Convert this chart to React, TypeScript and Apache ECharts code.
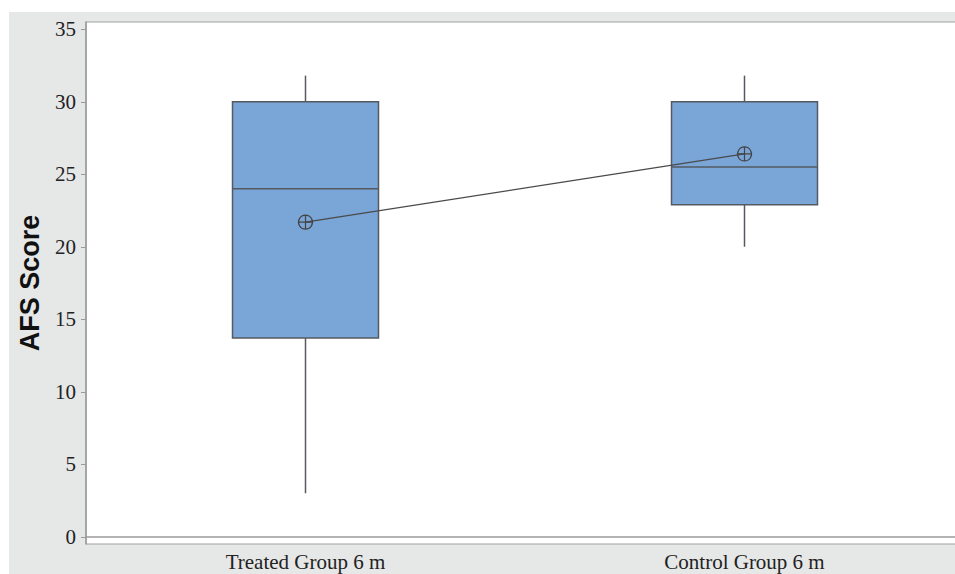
import React, { useEffect, useRef } from "react";
import * as echarts from "echarts";

// Box statistics per group: [min, Q1, median, Q3, max]
const categories = ["Treated Group 6 m", "Control Group 6 m"];
const boxStats = [
  [3.0, 13.7, 24.0, 30.0, 31.8],
  [20.0, 22.9, 25.5, 30.0, 31.8],
];
const groupMeans = [21.7, 26.4];
const yTicks = [0, 5, 10, 15, 20, 25, 30, 35];

// Circle with a plus inside, used as the mean marker
const meanSymbol =
  "path://M10,0 A10,10 0 1,1 9.99,0 Z M10,0 L10,20 M0,10 L20,10";

const BOX_WIDTH = 146;
const EDGE = "#555a60";

export default function App() {
  const ref = useRef<HTMLDivElement>(null);

  useEffect(() => {
    if (!ref.current) return;
    const chart = echarts.init(ref.current, null, { renderer: "svg" });
    const boxData = boxStats.map((s, i) => [i, ...s]);
    chart.setOption({
      animation: false,
      backgroundColor: "#ffffff",
      graphic: [
        {
          type: "rect",
          z: -10,
          silent: true,
          shape: { x: 9, y: 12, width: 1000, height: 570 },
          style: { fill: "#e6e7e7" },
        },
      ],
      grid: {
        left: 86,
        top: 22,
        bottom: 30,
        width: 878,
        show: true,
        backgroundColor: "#ffffff",
        borderColor: "#a0a0a0",
        borderWidth: 1,
      },
      xAxis: {
        type: "category",
        data: categories,
        axisLine: { lineStyle: { color: "#9a9a9a", width: 1.5 } },
        axisTick: {
          alignWithLabel: true,
          length: 4,
          lineStyle: { color: "#9a9a9a" },
        },
        axisLabel: {
          fontFamily: "Liberation Serif",
          fontSize: 21,
          color: "#222222",
          margin: 7,
        },
        splitLine: { show: false },
      },
      yAxis: {
        type: "value",
        min: -0.5,
        max: 35.5,
        name: "AFS Score",
        nameLocation: "middle",
        nameGap: 43,
        nameTextStyle: {
          fontFamily: "Liberation Sans",
          fontWeight: "bold",
          fontSize: 27,
          color: "#111111",
        },
        axisLine: { show: true, lineStyle: { color: "#9a9a9a", width: 1.5 } },
        axisTick: {
          show: true,
          length: 5,
          customValues: yTicks,
          lineStyle: { color: "#9a9a9a" },
        },
        axisLabel: {
          customValues: yTicks,
          fontFamily: "Liberation Serif",
          fontSize: 21,
          color: "#222222",
          margin: 10,
        },
        splitLine: { show: false },
      },
      series: [
        {
          type: "custom",
          data: boxData,
          encode: { x: 0, y: [1, 2, 3, 4, 5] },
          renderItem: (params: any, api: any) => {
            const idx = api.value(0);
            const [cx, yMin] = api.coord([idx, api.value(1)]);
            const yQ1 = api.coord([idx, api.value(2)])[1];
            const yMed = api.coord([idx, api.value(3)])[1];
            const yQ3 = api.coord([idx, api.value(4)])[1];
            const yMax = api.coord([idx, api.value(5)])[1];
            const half = BOX_WIDTH / 2;
            const lineStyle = { stroke: EDGE, lineWidth: 1.5 };
            return {
              type: "group",
              children: [
                {
                  type: "line",
                  shape: { x1: cx, y1: yMax, x2: cx, y2: yQ3 },
                  style: lineStyle,
                },
                {
                  type: "line",
                  shape: { x1: cx, y1: yQ1, x2: cx, y2: yMin },
                  style: lineStyle,
                },
                {
                  type: "rect",
                  shape: { x: cx - half, y: yQ3, width: BOX_WIDTH, height: yQ1 - yQ3 },
                  style: { fill: "#7aa5d7", stroke: EDGE, lineWidth: 1.5 },
                },
                {
                  type: "line",
                  shape: { x1: cx - half, y1: yMed, x2: cx + half, y2: yMed },
                  style: lineStyle,
                },
              ],
            };
          },
        },
        {
          type: "line",
          data: groupMeans,
          symbol: meanSymbol,
          symbolSize: 14,
          showSymbol: true,
          lineStyle: { color: "#4a4a4a", width: 1.2 },
          itemStyle: {
            color: "rgba(0,0,0,0)",
            borderColor: "#444444",
            borderWidth: 1.2,
          },
          z: 5,
        },
      ],
    });
    return () => chart.dispose();
  }, []);

  return (
    <div
      style={{
        position: "absolute",
        left: 0,
        top: 0,
        width: 955,
        height: 574,
        overflow: "hidden",
      }}
    >
      <div ref={ref} style={{ width: 975, height: 574 }} />
    </div>
  );
}
